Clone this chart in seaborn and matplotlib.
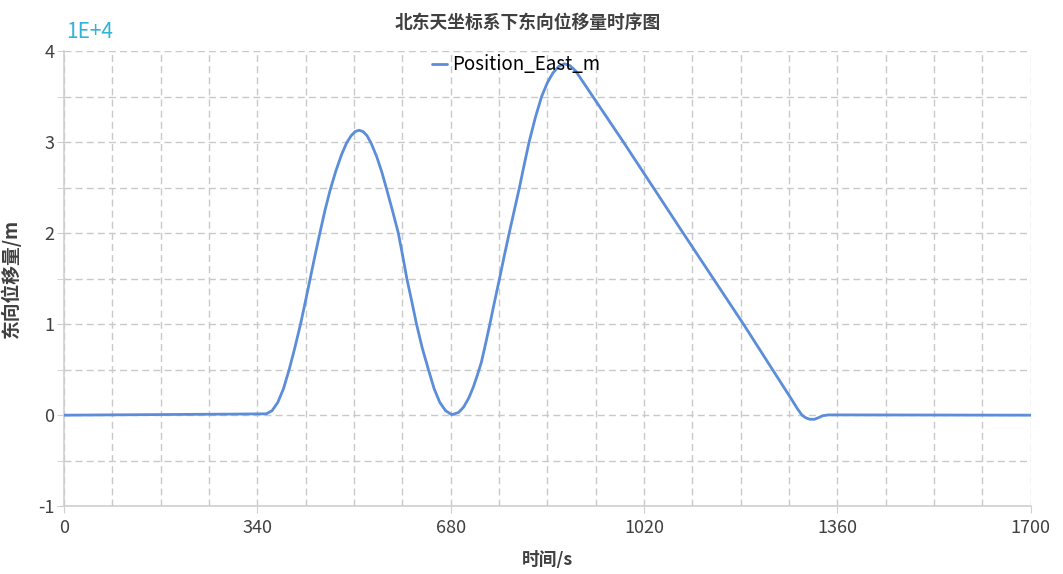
import matplotlib
matplotlib.use("Agg")
import matplotlib.pyplot as plt
from matplotlib.ticker import MultipleLocator
import seaborn as sns
import pandas as pd

# ---- data ----
time_s = [0, 100, 200, 300, 356, 366, 376, 386, 396, 406, 416, 425, 433, 441, 450,
          459, 468, 478, 488, 497, 505, 512, 519, 526, 533, 540, 550, 559, 568,
          578, 588, 596, 603, 612, 620, 630, 641, 651, 661, 671, 682,
          694, 703, 712, 720, 727, 734, 741, 749, 757, 766, 774, 783, 792, 801,
          809, 818, 829, 840, 850, 860, 870, 880, 890, 900, 985, 1089, 1195,
          1280, 1290, 1298, 1305, 1312, 1320, 1328, 1335, 1345, 1500, 1700]
east_m = [0, 40, 80, 120, 150, 500, 1400, 2900, 5000, 7400, 10000, 12600, 15000,
          17400, 20000, 22500, 24700, 26800, 28600, 29900, 30700, 31150, 31300,
          31150, 30700, 29900, 28400, 26700, 24700, 22400, 20000, 17400, 15000,
          12400, 10000, 7400, 5000, 2900, 1400, 500, 50,
          300, 900, 1900, 3100, 4400, 5800, 7700, 10000, 12400, 15000, 17400,
          20000, 22500, 25000, 27400, 30000, 32700, 35000, 36500, 37600, 38300,
          38600, 38400, 37800, 29900, 20000, 10000, 1700, 700, 0, -300, -450,
          -450, -250, -50, 30, 20, 0]
series_name = "Position_East_m"
title_text = "北东天坐标系下东向位移量时序图"
xlabel_text = "时间/s"
ylabel_text = "东向位移量/m"
scale_text = "1E+4"
x_ticks = [0, 340, 680, 1020, 1360, 1700]
y_ticks = [-1, 0, 1, 2, 3, 4]

df = pd.DataFrame({"t": time_s, "v": east_m, "s": series_name})

sns.set_style("white")
plt.rcParams["font.family"] = ["Noto Sans CJK SC", "DejaVu Sans"]

fig = plt.figure(figsize=(10.63, 5.74), dpi=100)
ax = fig.add_axes([0.0602, 0.1181, 0.9093, 0.7930])

line_color = "#5b8dd9"
sns.lineplot(data=df, x="t", y="v", hue="s", palette=[line_color], ax=ax,
             linewidth=2.0, legend=True, zorder=3)

ax.set_xlim(0, 1700)
ax.set_ylim(-1e4, 4e4)
ax.xaxis.set_minor_locator(MultipleLocator(85))
ax.yaxis.set_minor_locator(MultipleLocator(5e3))
ax.set_xticks(x_ticks)
ax.set_xticklabels([str(v) for v in x_ticks])
ax.set_yticks([v * 1e4 for v in y_ticks])
ax.set_yticklabels([str(v) for v in y_ticks])

grid_col = "#c9c9c9"
ax.grid(True, which="both", color=grid_col, linestyle=(0, (5, 3)), linewidth=1.0, zorder=0)
for side in ["top", "right"]:
    ax.spines[side].set_visible(False)
for side in ["left", "bottom"]:
    ax.spines[side].set_color("#cfcfcf")
    ax.spines[side].set_linewidth(1.2)

ax.tick_params(axis="x", which="major", length=5, color="#cfcfcf", labelsize=13,
               labelcolor="#404040", pad=4, bottom=True)
ax.tick_params(axis="x", which="minor", length=0, bottom=False)
ax.tick_params(axis="y", which="both", length=5, color="#cfcfcf", labelsize=13,
               labelcolor="#404040", pad=2, left=True)

ax.set_xlabel(xlabel_text, fontsize=12.8, fontweight="bold", color="#404040", labelpad=10)
ax.set_ylabel(ylabel_text, fontsize=13.5, fontweight="bold", color="#404040", labelpad=12)
fig.text(0.496, 0.960, title_text, ha="center", va="center", fontsize=12.8,
         fontweight="bold", color="#404040")
fig.text(0.062, 0.945, scale_text, ha="left", va="center", fontsize=15, color="#2fb3d9")

leg = ax.legend(loc="upper center", bbox_to_anchor=(0.468, 1.03), frameon=False,
                fontsize=13.5, handlelength=0.8, handletextpad=0.3)
for t in leg.get_texts():
    t.set_color("#000000")

fig.savefig("out.png", dpi=100)
